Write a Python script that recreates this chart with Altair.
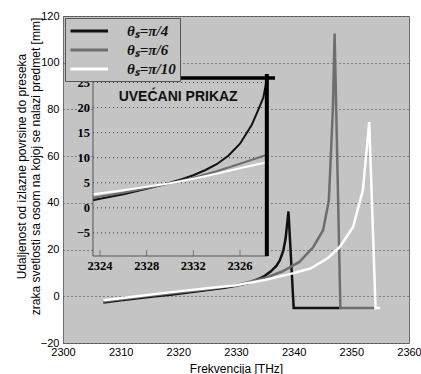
import altair as alt
import pandas as pd

# ---------------- data ----------------
series_labels = ["θₛ=π/4", "θₛ=π/6", "θₛ=π/10"]
series_colors = ["#111111", "#6e6e6e", "#ffffff"]

# main panel
freq_pi4 = [2307, 2310, 2313, 2316, 2319, 2322, 2325, 2328, 2330, 2332, 2334, 2335, 2336, 2337, 2337.6, 2338.2, 2338.6, 2339.1, 2340, 2348]
dist_pi4 = [-2.7, -1.7, -0.8, 0.0, 0.8, 1.7, 2.7, 3.7, 4.5, 5.6, 7.5, 8.8, 10.6, 13.0, 15.4, 19.5, 24.7, 36.3, -5.0, -5.0]

freq_pi6 = [2307, 2310, 2315, 2320, 2325, 2330, 2335, 2338, 2341, 2343.4, 2345.1, 2346.1, 2346.8, 2347.1, 2348.1, 2354]
dist_pi6 = [-2.2, -1.3, 0.2, 1.6, 3.0, 4.7, 7.8, 10.6, 14.7, 21.1, 28.3, 41.0, 80.0, 112.5, -5.0, -5.0]

freq_pi10 = [2307, 2310, 2315, 2320, 2325, 2330, 2335, 2340, 2343, 2346, 2348, 2350.3, 2352, 2353.1, 2354.2, 2355]
dist_pi10 = [-1.7, -0.8, 0.7, 2.1, 3.4, 4.7, 7.0, 9.9, 12.0, 16.5, 21.1, 29.7, 45.4, 74.6, -5.0, -5.0]

main_x_ticks = [2300, 2310, 2320, 2330, 2340, 2350, 2360]
main_y_ticks = [-20, 0, 20, 40, 60, 80, 100, 120]

# inset ("zoomed view")
inset_freq_pi4 = [2323.4, 2324, 2326, 2328, 2330, 2331, 2332, 2333, 2334, 2335, 2336, 2337, 2337.5, 2338, 2338.3]
inset_dist_pi4 = [1.5, 1.8, 2.7, 3.8, 5.0, 5.7, 6.5, 7.5, 8.7, 10.4, 12.8, 16.5, 19.2, 22.0, 25.6]
inset_freq_other = [2323.4, 2326, 2328, 2330, 2332, 2334, 2336, 2338.3]
inset_dist_pi6 = [2.0, 3.0, 3.9, 4.9, 6.0, 7.3, 8.8, 10.6]
inset_dist_pi10 = [2.7, 3.5, 4.2, 4.9, 5.8, 6.8, 7.9, 9.1]

inset_x_domain = [2323.4, 2338.4]
inset_y_domain = [-9.6, 25.9]
inset_x_ticks = [2324, 2328, 2332, 2336]
inset_x_labels = ["2324", "2328", "2332", "2326"]
inset_y_ticks = [-5, 0, 5, 10, 15, 20, 25]
inset_title = "UVEĆANI PRIKAZ"

y_title = ["Udaljenost od izlazne povrsine do preseka",
           "zraka svetlosti sa osom na kojoj se nalazi predmet [mm]"]
x_title = "Frekvencija [THz]"


def long_df(parts):
    rows = []
    for label, fr, vals in parts:
        for i, (f, v) in enumerate(zip(fr, vals)):
            rows.append({"series": label, "freq": f, "dist": v, "idx": i})
    return pd.DataFrame(rows)


main_df = long_df([(series_labels[0], freq_pi4, dist_pi4),
                   (series_labels[1], freq_pi6, dist_pi6),
                   (series_labels[2], freq_pi10, dist_pi10)])
inset_df = long_df([(series_labels[0], inset_freq_pi4, inset_dist_pi4),
                    (series_labels[1], inset_freq_other, inset_dist_pi6),
                    (series_labels[2], inset_freq_other, inset_dist_pi10)])
ytick_df = pd.DataFrame({"v": inset_y_ticks})
xtick_df = pd.DataFrame({"v": inset_x_ticks, "lab": inset_x_labels})
one_df = pd.DataFrame({"a": [0]})

SANS = "Liberation Sans"
SERIF = "Liberation Serif"
BG = "#c4c4c4"

color_scale = alt.Scale(domain=series_labels, range=series_colors)

# ---------------- main panel ----------------
main = alt.Chart(main_df).mark_line(strokeWidth=2.5).encode(
    x=alt.X("freq:Q",
            scale=alt.Scale(domain=[2300, 2360], nice=False, zero=False),
            axis=alt.Axis(values=main_x_ticks, title=x_title, grid=False, domain=False, ticks=False,
                          labelFont=SANS, labelFontSize=11, labelColor="black", labelPadding=3,
                          labelOverlap=False, labelFlush=False, format="d",
                          titleFont=SANS, titleFontSize=12, titleFontWeight="normal", titleColor="black",
                          titleY=29, titleBaseline="alphabetic")),
    y=alt.Y("dist:Q",
            scale=alt.Scale(domain=[-20, 120], nice=False, zero=False),
            axis=alt.Axis(values=main_y_ticks, title=y_title, grid=True, gridDash=[1, 3],
                          gridColor="#3a3a3a", gridOpacity=1, gridWidth=1, domain=False, ticks=False,
                          labelFont=SANS, labelFontSize=11, labelColor="black", labelPadding=4,
                          labelOverlap=False, labelFlush=False,
                          titleFont=SANS, titleFontSize=12, titleFontWeight="normal", titleColor="black",
                          titleAngle=-90, titleX=-47, titleY=150, titleBaseline="top",
                          titleAlign="center", titleLineHeight=14)),
    color=alt.Color("series:N", scale=color_scale,
                    legend=alt.Legend(title=None, orient="top-left", offset=2, fillColor=BG,
                                      strokeColor="#555555", padding=4, rowPadding=2,
                                      symbolType="M-1,0H4", symbolSize=225, symbolStrokeWidth=3,
                                      symbolFillColor="transparent",
                                      labelFont=SERIF, labelFontStyle="italic", labelFontWeight="bold",
                                      labelFontSize=15, labelColor="#111111", labelOffset=40)),
    order="idx:Q",
)

# ---------------- inset panel ----------------
ix_scale = alt.Scale(domain=inset_x_domain, range=[30, 205], nice=False, zero=False)
iy_scale = alt.Scale(domain=inset_y_domain, range=[240, 62], nice=False, zero=False)


def ix(**kw):
    return alt.X(scale=ix_scale, axis=None, **kw)


def iy(**kw):
    return alt.Y(scale=iy_scale, axis=None, **kw)


inset_bg = alt.Chart(one_df).mark_rect(fill=BG).encode(
    x=ix(datum=inset_x_domain[0]), x2=alt.X2(datum=inset_x_domain[1]),
    y=iy(datum=inset_y_domain[0]), y2=alt.Y2(datum=inset_y_domain[1]),
)

inset_grid = alt.Chart(ytick_df).mark_rule(strokeDash=[1, 3], color="#3a3a3a", strokeWidth=1).encode(
    x=ix(datum=inset_x_domain[0]), x2=alt.X2(datum=inset_x_domain[1]),
    y=iy(field="v", type="quantitative"),
)

inset_lines = alt.Chart(inset_df).mark_line(strokeWidth=2).encode(
    x=ix(field="freq", type="quantitative"),
    y=iy(field="dist", type="quantitative"),
    color=alt.Color("series:N", scale=color_scale, legend=None),
    order="idx:Q",
)

# inset axis lines (thin gray left/bottom)
inset_left = alt.Chart(one_df).mark_rule(color="#555555", strokeWidth=1).encode(
    x=ix(datum=inset_x_domain[0]),
    y=iy(datum=inset_y_domain[0]), y2=alt.Y2(datum=inset_y_domain[1]),
)
inset_bottom = alt.Chart(one_df).mark_rule(color="#555555", strokeWidth=1).encode(
    x=ix(datum=inset_x_domain[0]), x2=alt.X2(datum=inset_x_domain[1]),
    y=iy(datum=inset_y_domain[0]),
)
# small inward ticks
inset_xticks = alt.Chart(xtick_df).mark_tick(color="#555555", thickness=1, size=6, orient="vertical").encode(
    x=ix(field="v", type="quantitative"),
    y=iy(datum=inset_y_domain[0]), yOffset=alt.value(-3),
)

# inset tick labels
inset_ylabels = alt.Chart(ytick_df).mark_text(font=SERIF, fontWeight="bold", fontSize=12.5, color="black",
                                             align="right", baseline="middle", dx=-3).encode(
    x=ix(datum=inset_x_domain[0]),
    y=iy(field="v", type="quantitative"),
    text=alt.Text("v:Q", format="d"),
)
inset_xlabels = alt.Chart(xtick_df).mark_text(font=SERIF, fontWeight="bold", fontSize=12.5, color="black",
                                             align="center", baseline="top", dy=4).encode(
    x=ix(field="v", type="quantitative"),
    y=iy(datum=inset_y_domain[0]),
    text="lab:N",
)

inset_top = alt.Chart(one_df).mark_rule(color="black", strokeWidth=3.5).encode(
    x=ix(datum=inset_x_domain[0]), x2=alt.X2(datum=2339.0),
    y=iy(datum=inset_y_domain[1]),
)

inset_right = alt.Chart(one_df).mark_rule(color="black", strokeWidth=4).encode(
    x=ix(datum=2338.3),
    y=iy(datum=inset_y_domain[0]), y2=alt.Y2(datum=26.7),
)

inset_text = alt.Chart(one_df).mark_text(text=inset_title, font=SANS, fontWeight="bold", fontSize=14,
                                          color="#111111", baseline="middle", align="center").encode(
    x=ix(datum=2330.7),
    y=iy(datum=22.2),
)

inset = alt.layer(inset_bg, inset_grid, inset_lines, inset_left, inset_bottom, inset_xticks,
                  inset_ylabels, inset_xlabels, inset_top, inset_right, inset_text)

chart = alt.layer(main, inset).resolve_scale(x="independent", y="independent").properties(
    width=346, height=327,
    autosize=alt.AutoSizeParams(type="none"),
    padding={"left": 63, "top": 16, "right": 12, "bottom": 31},
    background="white",
).configure_view(fill=BG, stroke="#6f6f6f", strokeWidth=1)

chart.save("out.html", embed_options={"renderer": "svg", "actions": False})
